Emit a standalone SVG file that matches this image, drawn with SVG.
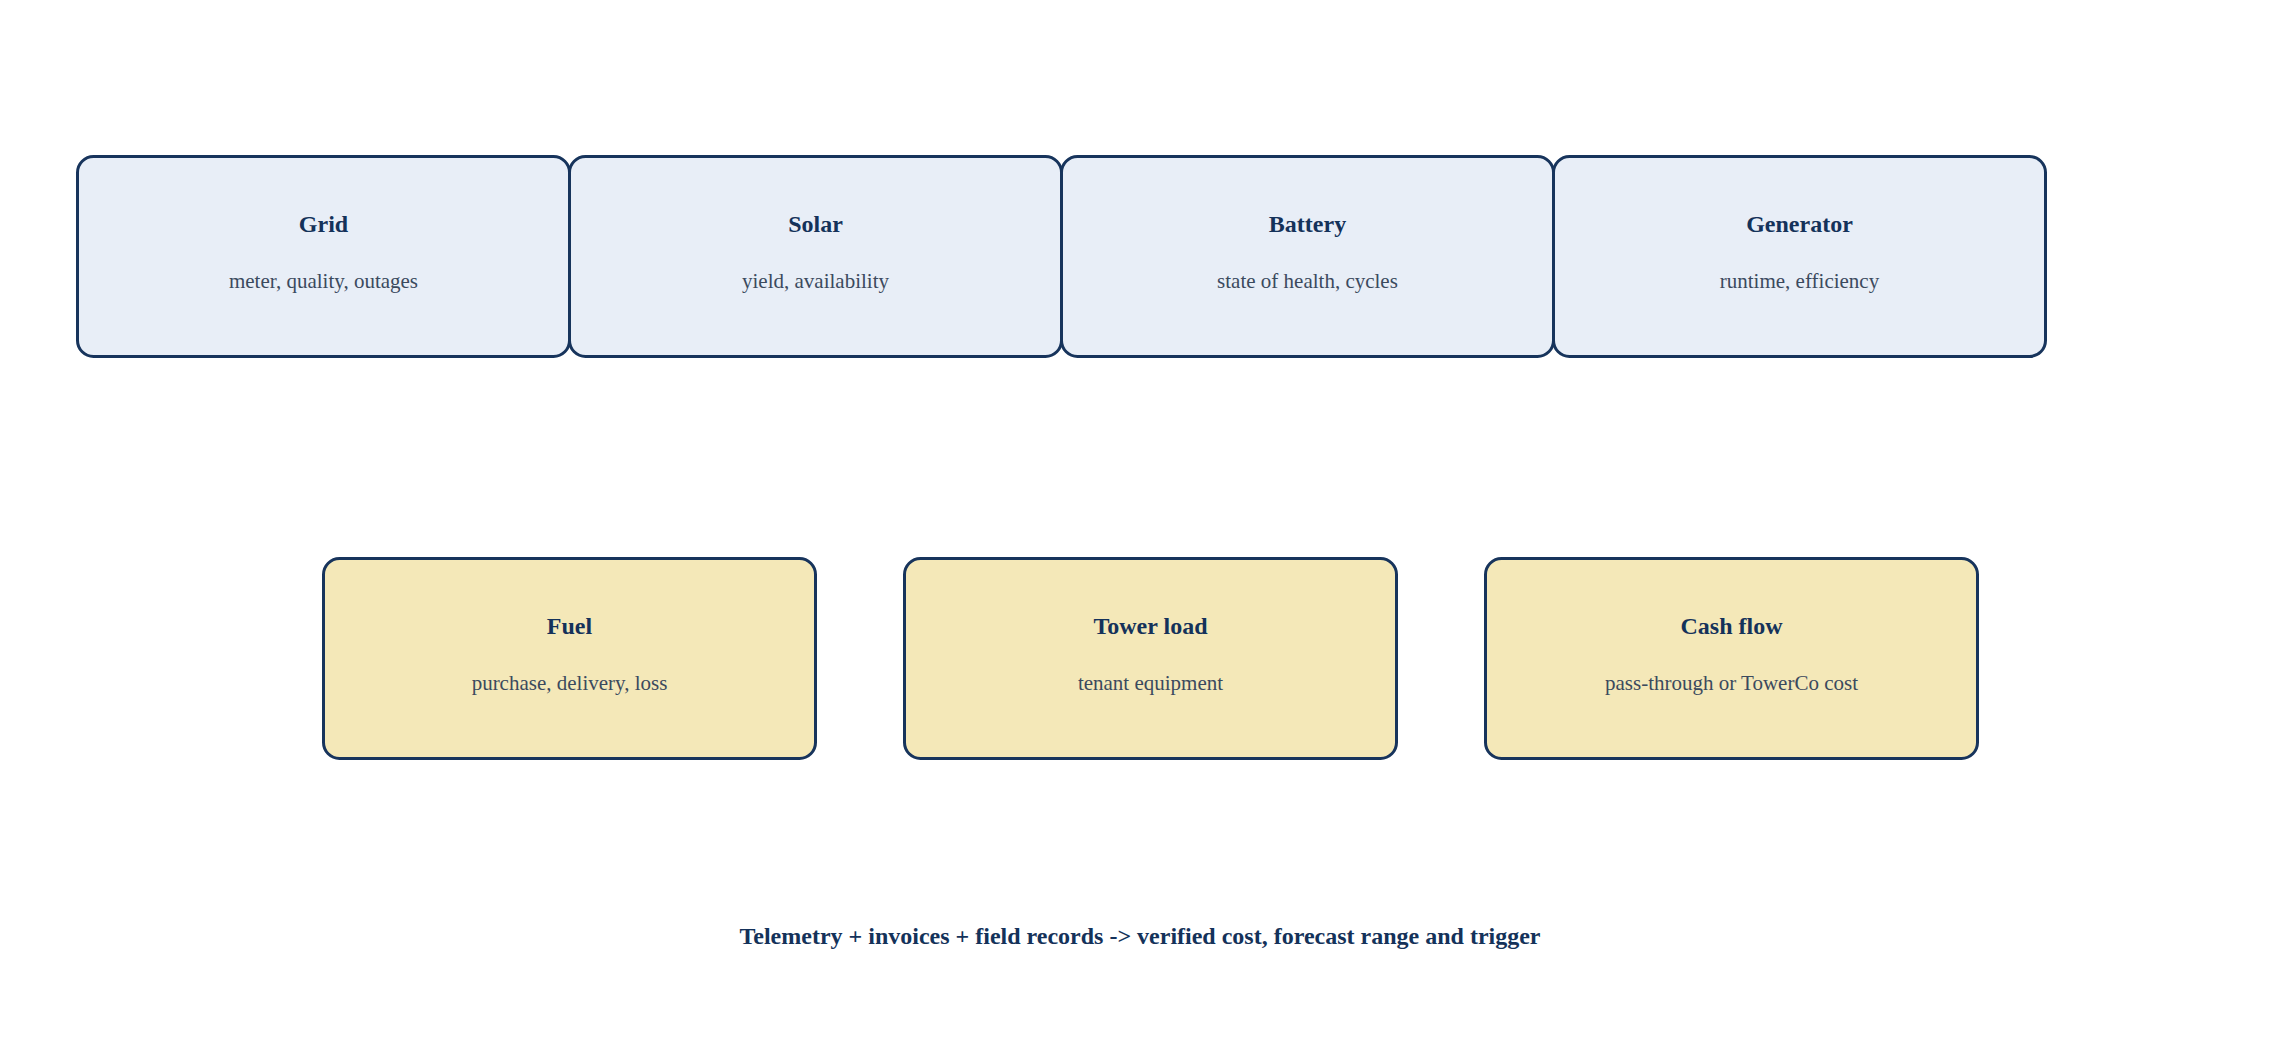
<svg xmlns="http://www.w3.org/2000/svg" width="2279" height="1047" viewBox="0 0 2279 1047">
<style>
.box{stroke:#17345c;stroke-width:3}
.src{fill:#e8eef7}
.out{fill:#f4e8b8}
.t{font-family:"Liberation Serif","Times New Roman",serif;font-weight:bold;font-size:24px;fill:#14325a;text-anchor:middle}
.s{font-family:"Liberation Serif","Times New Roman",serif;font-size:21px;fill:#3b4a5e;text-anchor:middle}
</style>
<rect width="2279" height="1047" fill="#ffffff"/>
<g id="connectors"></g>
<g id="grid"><rect class="box src" x="77.5" y="156.5" width="492" height="200" rx="16"/><text class="t" x="323.5" y="232">Grid</text><text class="s" x="323.5" y="288">meter, quality, outages</text></g>
<g id="solar"><rect class="box src" x="569.5" y="156.5" width="492" height="200" rx="16"/><text class="t" x="815.5" y="232">Solar</text><text class="s" x="815.5" y="288">yield, availability</text></g>
<g id="battery"><rect class="box src" x="1061.5" y="156.5" width="492" height="200" rx="16"/><text class="t" x="1307.5" y="232">Battery</text><text class="s" x="1307.5" y="288">state of health, cycles</text></g>
<g id="generator"><rect class="box src" x="1553.5" y="156.5" width="492" height="200" rx="16"/><text class="t" x="1799.5" y="232">Generator</text><text class="s" x="1799.5" y="288">runtime, efficiency</text></g>
<g id="fuel"><rect class="box out" x="323.5" y="558.5" width="492" height="200" rx="16"/><text class="t" x="569.5" y="634">Fuel</text><text class="s" x="569.5" y="690">purchase, delivery, loss</text></g>
<g id="tower-load"><rect class="box out" x="904.5" y="558.5" width="492" height="200" rx="16"/><text class="t" x="1150.5" y="634">Tower load</text><text class="s" x="1150.5" y="690">tenant equipment</text></g>
<g id="cash-flow"><rect class="box out" x="1485.5" y="558.5" width="492" height="200" rx="16"/><text class="t" x="1731.5" y="634">Cash flow</text><text class="s" x="1731.5" y="690">pass-through or TowerCo cost</text></g>
<g id="caption"><text class="t" x="1140" y="944">Telemetry + invoices + field records -&gt; verified cost, forecast range and trigger</text></g>
</svg>
